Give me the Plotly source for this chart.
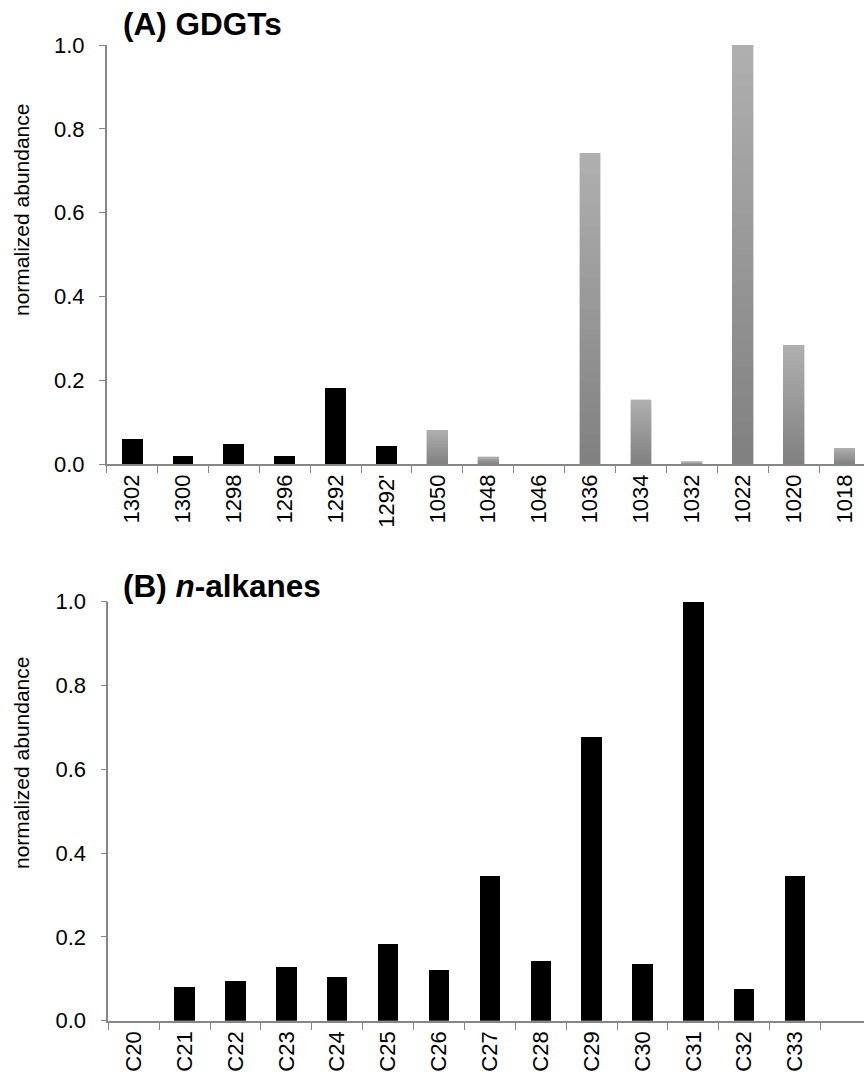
import plotly.graph_objects as go

# ---- data ----
iso_labels = ["1302", "1300", "1298", "1296", "1292", "1292'"]
iso_values = [0.060, 0.020, 0.048, 0.020, 0.181, 0.043]
br_labels = ["1050", "1048", "1046", "1036", "1034", "1032", "1022", "1020", "1018"]
br_values = [0.081, 0.017, 0.0, 0.742, 0.153, 0.005, 1.0, 0.284, 0.038]

alk_labels = ["C20", "C21", "C22", "C23", "C24", "C25", "C26", "C27", "C28", "C29", "C30", "C31", "C32", "C33"]
alk_values = [0.0, 0.081, 0.095, 0.128, 0.105, 0.182, 0.120, 0.345, 0.143, 0.678, 0.135, 1.0, 0.076, 0.345]

y_ticks = [0.0, 0.2, 0.4, 0.6, 0.8, 1.0]

# ---- layout constants (pixels) ----
W, H = 864, 1074
AX_LEFT = 106.7
AX_LEFT2 = 108.3
TOP_Y1, TOP_Y0 = 45, 464
BOT_Y1, BOT_Y0 = 601.7, 1020.7
STEP = 50.88
AXIS_GREY = "#868686"
FONT = "Liberation Sans, Arial, Helvetica, sans-serif"

fig = go.Figure()

# isoprenoid GDGTs (black)
fig.add_trace(go.Bar(x=iso_labels, y=iso_values, marker_color="black",
                     marker_line_width=0, width=0.41, xaxis="x", yaxis="y",
                     showlegend=False))

# branched GDGTs, drawn as stacked slices to give a vertical grey gradient
N = 30
dark, light = 0x80, 0xB0
for k in range(N):
    g = round(dark + (light - dark) * (k + 0.5) / N)
    col = f"rgb({g},{g},{g})"
    fig.add_trace(go.Bar(x=br_labels, y=[v / N for v in br_values],
                         marker_color=col, marker_line_color=col,
                         marker_line_width=0.4, width=0.41,
                         xaxis="x", yaxis="y", showlegend=False,
                         hoverinfo="skip"))

# n-alkanes
fig.add_trace(go.Bar(x=alk_labels, y=alk_values, marker_color="black",
                     marker_line_width=0, width=0.40, xaxis="x2", yaxis="y2",
                     showlegend=False))

x_right_top = -0.5 + (W - AX_LEFT) / STEP
x_right_bot = -0.5 + (W - AX_LEFT2) / STEP

common_x = dict(type="category", showline=True, linecolor=AXIS_GREY, linewidth=1.6,
                ticks="outside", tickson="boundaries", ticklen=7, tickcolor=AXIS_GREY,
                tickwidth=1.2, tickangle=-90, showgrid=False, zeroline=False,
                automargin=False,
                tickfont=dict(family=FONT, size=22, color="black"))
common_y = dict(range=[0, 1], tickvals=y_ticks, ticktext=[f"{t:.1f}" for t in y_ticks],
                showline=True, linecolor=AXIS_GREY, linewidth=1.6, ticks="outside",
                ticklen=6, tickcolor=AXIS_GREY, tickwidth=1.2, showgrid=False,
                zeroline=False, ticklabelstandoff=10, automargin=False,
                tickfont=dict(family=FONT, size=22, color="black"))

fig.update_layout(
    width=W, height=H, margin=dict(l=0, r=0, t=0, b=0, autoexpand=False),
    paper_bgcolor="white", plot_bgcolor="white",
    barmode="stack",
    xaxis=dict(common_x, domain=[AX_LEFT / W, 1], anchor="y",
               categoryorder="array", categoryarray=iso_labels + br_labels,
               range=[-0.5, x_right_top]),
    yaxis=dict(common_y, domain=[(H - TOP_Y0) / H, (H - TOP_Y1) / H], anchor="x"),
    xaxis2=dict(common_x, domain=[AX_LEFT2 / W, 1], anchor="y2",
                categoryorder="array", categoryarray=alk_labels,
                range=[-0.5, x_right_bot]),
    yaxis2=dict(common_y, domain=[(H - BOT_Y0) / H, (H - BOT_Y1) / H], anchor="x2"),
    font=dict(family=FONT, color="black"),
)

ann = [
    dict(text="<b>(A) GDGTs</b>", x=121 / W, y=1 - 24 / H, xanchor="left", yanchor="middle",
         font=dict(size=31.5)),
    dict(text="<b>(B) <i>n</i>-alkanes</b>", x=121 / W, y=1 - 586 / H, xanchor="left",
         yanchor="middle", font=dict(size=31.5)),
    dict(text="normalized abundance", textangle=-90, x=22 / W, y=1 - 210 / H,
         xanchor="center", yanchor="middle", font=dict(size=21)),
    dict(text="normalized abundance", textangle=-90, x=22 / W, y=1 - 763 / H,
         xanchor="center", yanchor="middle", font=dict(size=21)),
]
for a in ann:
    a.update(xref="paper", yref="paper", showarrow=False)
    a["font"] = dict(family=FONT, color="black", **a["font"])
fig.update_layout(annotations=ann)

fig.write_html("out.html", config={"displayModeBar": False},
               post_script="document.body.style.margin='0';document.body.style.overflow='hidden';")
